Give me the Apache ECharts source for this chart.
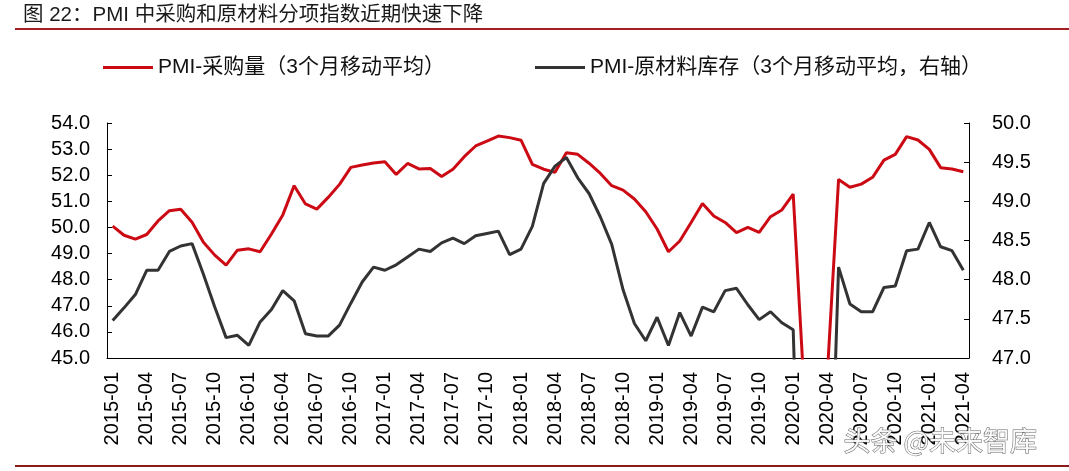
<!DOCTYPE html>
<html>
<head>
<meta charset="utf-8">
<script src="https://cdn.jsdelivr.net/npm/echarts@6/dist/echarts.min.js"></script>
<style>
html,body{margin:0;padding:0;background:#fff;}
#c{width:1069px;height:471px;}
</style>
</head>
<body>
<div id="c"></div>
<script>
var categories = [
'2015-01','2015-02','2015-03','2015-04','2015-05','2015-06','2015-07','2015-08','2015-09','2015-10','2015-11','2015-12',
'2016-01','2016-02','2016-03','2016-04','2016-05','2016-06','2016-07','2016-08','2016-09','2016-10','2016-11','2016-12',
'2017-01','2017-02','2017-03','2017-04','2017-05','2017-06','2017-07','2017-08','2017-09','2017-10','2017-11','2017-12',
'2018-01','2018-02','2018-03','2018-04','2018-05','2018-06','2018-07','2018-08','2018-09','2018-10','2018-11','2018-12',
'2019-01','2019-02','2019-03','2019-04','2019-05','2019-06','2019-07','2019-08','2019-09','2019-10','2019-11','2019-12',
'2020-01','2020-02','2020-03','2020-04','2020-05','2020-06','2020-07','2020-08','2020-09','2020-10','2020-11','2020-12',
'2021-01','2021-02','2021-03','2021-04'
];
var purchaseMA3 = [
50.05,49.70,49.55,49.73,50.25,50.64,50.70,50.20,49.43,48.94,48.56,49.13,
49.18,49.07,49.75,50.48,51.60,50.90,50.70,51.15,51.65,52.30,52.39,52.47,
52.52,52.03,52.45,52.24,52.26,51.95,52.23,52.71,53.12,53.31,53.50,53.44,
53.34,52.42,52.23,52.11,52.86,52.80,52.46,52.07,51.60,51.43,51.09,50.60,
49.94,49.07,49.48,50.19,50.92,50.44,50.19,49.80,50.00,49.81,50.41,50.67,
51.28,43.50,43.90,44.30,51.84,51.54,51.66,51.92,52.58,52.80,53.48,53.35,
52.99,52.29,52.24,52.13
];
var rawInventoryMA3 = [
47.48,47.64,47.81,48.12,48.12,48.36,48.43,48.46,48.07,47.65,47.26,47.29,
47.16,47.46,47.62,47.86,47.73,47.31,47.28,47.28,47.42,47.70,47.97,48.16,
48.12,48.19,48.29,48.39,48.36,48.47,48.53,48.46,48.56,48.59,48.62,48.32,
48.39,48.68,49.23,49.45,49.56,49.30,49.10,48.80,48.45,47.87,47.44,47.22,
47.52,47.16,47.58,47.28,47.65,47.59,47.86,47.89,47.68,47.49,47.59,47.45,
47.36,42.70,43.30,43.70,48.16,47.69,47.59,47.59,47.90,47.92,48.37,48.39,
48.73,48.42,48.37,48.12
];
var seriesNames = ['PMI-采购量（3个月移动平均）','PMI-原材料库存（3个月移动平均，右轴）'];
var titleText = '图 22：PMI 中采购和原材料分项指数近期快速下降';
var watermark = '头条 @未来智库';

var FONT = '"Liberation Sans", Arial, "Noto Sans CJK SC", sans-serif';
var chart = echarts.init(document.getElementById('c'), null, {renderer:'canvas'});
chart.setOption({
  animation:false,
  backgroundColor:'#fff',
  title:{text:titleText,left:18,top:0,textStyle:{fontFamily:FONT,fontSize:20.5,fontWeight:'normal',color:'#1a1a1a'}},
  legend:[
    {data:[seriesNames[0]],left:98,top:52,icon:'rect',itemWidth:50,itemHeight:3,itemGap:5,
     textStyle:{fontFamily:FONT,fontSize:21,color:'#111'}},
    {data:[seriesNames[1]],left:530,top:52,icon:'rect',itemWidth:50,itemHeight:3,itemGap:5,
     textStyle:{fontFamily:FONT,fontSize:21,color:'#111'}}
  ],
  grid:{left:107,right:100,top:123,bottom:113,containLabel:false},
  xAxis:{type:'category',data:categories,boundaryGap:true,
    axisLine:{lineStyle:{color:'#000',width:1}},
    axisTick:{inside:true,length:5,interval:2,lineStyle:{color:'#000'}},
    axisLabel:{interval:2,rotate:90,margin:14,fontFamily:FONT,fontSize:20,color:'#000'}},
  yAxis:[
    {type:'value',min:45,max:54,interval:1,position:'left',
     axisLine:{show:true,lineStyle:{color:'#000'}},
     axisTick:{show:true,inside:true,length:5,lineStyle:{color:'#000'}},
     splitLine:{show:false},
     axisLabel:{margin:17,fontFamily:FONT,fontSize:20,color:'#000',formatter:function(v){return v.toFixed(1);}}},
    {type:'value',min:47,max:50,interval:0.5,position:'right',
     axisLine:{show:true,lineStyle:{color:'#000'}},
     axisTick:{show:true,inside:true,length:5,lineStyle:{color:'#000'}},
     splitLine:{show:false},
     axisLabel:{margin:23,fontFamily:FONT,fontSize:20,color:'#000',formatter:function(v){return v.toFixed(1);}}}
  ],
  series:[
    {name:seriesNames[0],type:'line',yAxisIndex:0,data:purchaseMA3,symbol:'none',clip:true,
     itemStyle:{color:'#cc0a14'},lineStyle:{color:'#cc0a14',width:3}},
    {name:seriesNames[1],type:'line',yAxisIndex:1,data:rawInventoryMA3,symbol:'none',clip:true,
     itemStyle:{color:'#333333'},lineStyle:{color:'#333333',width:3}}
  ],
  graphic:[
    {type:'line',shape:{x1:15,y1:29,x2:1069,y2:29},style:{stroke:'#a31e22',lineWidth:2}},
    {type:'line',shape:{x1:15,y1:466,x2:1069,y2:466},style:{stroke:'#8b1a1a',lineWidth:2}},
    {type:'text',left:843,top:427,z:100,style:{text:watermark,fontFamily:'"Noto Sans CJK SC", sans-serif',fontSize:27,
      fill:'rgba(255,255,255,0.9)',stroke:'#666',lineWidth:1}}
  ]
});
</script>
</body>
</html>
